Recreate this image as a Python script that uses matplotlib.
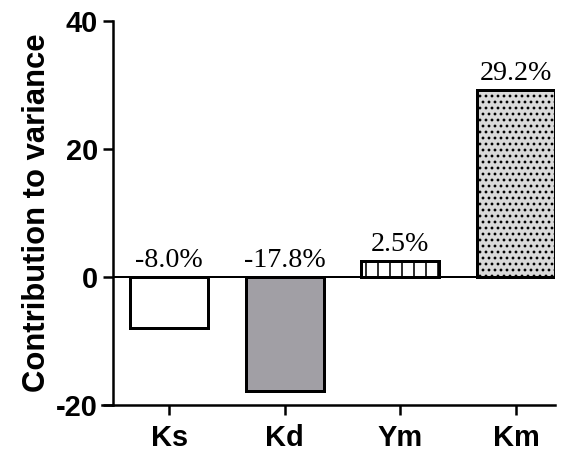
import matplotlib
matplotlib.use("Agg")
import matplotlib.pyplot as plt

# contribution of each parameter to the variance (%)
params = ["Ks", "Kd", "Ym", "Km"]
contrib = [-8.0, -17.8, 2.5, 29.2]
pct_labels = ["-8.0%", "-17.8%", "2.5%", "29.2%"]

fills = ["white", "#a19fa5", "white", "#d9d9d9"]
hatches = [None, None, "|", ".."]

plt.rcParams["hatch.linewidth"] = 1.6
plt.rcParams["axes.unicode_minus"] = False
plt.rcParams["font.family"] = ["Liberation Sans", "DejaVu Sans"]

fig = plt.figure(figsize=(563 / 72, 455 / 72), dpi=72)
ax = fig.add_axes([113 / 563, 50 / 455, 442 / 563, 384 / 455])

x = list(range(len(params)))
bars = ax.bar(x, contrib, width=0.675, color=fills, edgecolor="black",
              linewidth=3, zorder=2)
for b, h in zip(bars, hatches):
    if h:
        b.set_hatch(h)

ax.axhline(0, color="black", lw=2, zorder=3)

for xi, v, s in zip(x, contrib, pct_labels):
    y = max(v, 0) + 1.6
    ax.text(xi, y, s, ha="center", va="baseline", fontsize=28,
            family="Liberation Serif")

ax.set_xlim(-0.485, 3.337)
ax.set_ylim(-20, 40)
ax.set_yticks([-20, 0, 20, 40])
ax.set_xticks(x)
ax.set_xticklabels(params)

for side in ["top", "right"]:
    ax.spines[side].set_visible(False)
for side in ["left", "bottom"]:
    ax.spines[side].set_linewidth(2.5)
ax.spines["bottom"].set_bounds(-0.58, 3.337)

ax.tick_params(axis="both", width=2.5, length=10, labelsize=29, pad=5)
ax.tick_params(axis="x", pad=9)
for lab in ax.get_xticklabels() + ax.get_yticklabels():
    lab.set_fontweight("bold")

ax.set_ylabel("Contribution to variance", fontsize=31, fontweight="bold",
              labelpad=4)

fig.savefig("out.png", dpi=72)
